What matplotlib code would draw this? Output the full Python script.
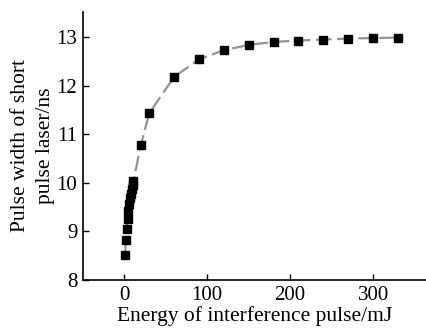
import numpy as np
from matplotlib import pyplot as plt

# data
energy = [1, 2, 3, 4, 5, 6, 7, 8, 9, 10, 11, 20, 30, 60, 90, 120, 150, 180, 210, 240, 270, 300, 330]
width = [8.52, 8.82, 9.05, 9.25, 9.42, 9.56, 9.68, 9.78, 9.88, 9.96, 10.04,
         10.78, 11.43, 12.18, 12.54, 12.73, 12.84, 12.90, 12.93, 12.95, 12.97, 12.98, 12.99]

xticks = [0, 100, 200, 300]
yticks = [8, 9, 10, 11, 12, 13]

plt.rcParams['font.family'] = ['Liberation Serif', 'DejaVu Serif']
plt.rcParams['font.size'] = 15

fig = plt.figure(figsize=(4.27, 3.29), dpi=100)
ax = fig.add_axes([0.194, 0.149, 0.806, 0.815])

ax.plot(energy, width, color='#939393', linewidth=1.6, dashes=(7, 2.5), zorder=1)
ax.plot(energy, width, 's', color='black', markersize=5.5, zorder=2)

ax.set_xlim(-50, 365)
ax.set_ylim(8, 13.52)
ax.set_xticks(xticks)
ax.set_yticks(yticks)
ax.tick_params(direction='in', length=4, width=1, pad=4)

for s in ['top', 'right']:
    ax.spines[s].set_visible(False)
for s in ['left', 'bottom']:
    ax.spines[s].set_linewidth(1.2)

ax.set_xlabel('Energy of interference pulse/mJ', labelpad=1, fontsize=15.5)
ax.set_ylabel('Pulse width of short\npulse laser/ns', labelpad=1, linespacing=1.4, fontsize=15.5)

plt.savefig('out.png', dpi=100)
